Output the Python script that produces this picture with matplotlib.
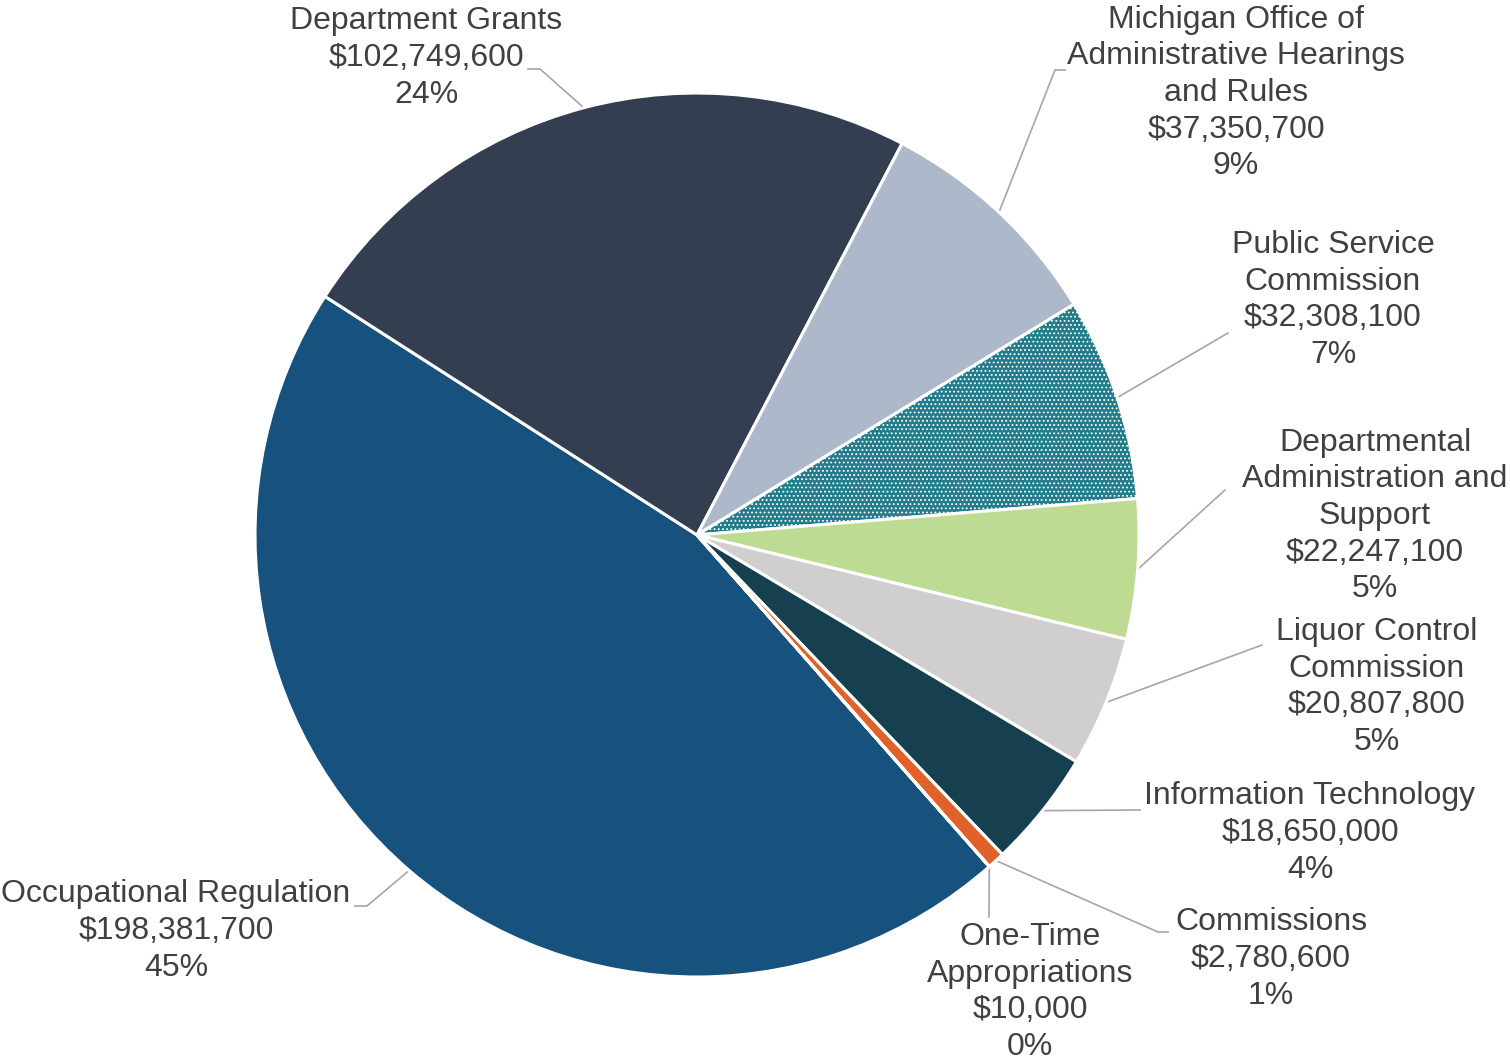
import numpy as np
import matplotlib.pyplot as plt
import matplotlib as mpl

plt.rcParams['font.family'] = ['Liberation Sans', 'DejaVu Sans']
plt.rcParams['hatch.linewidth'] = 0.8

# data (clockwise from the Occupational Regulation slice)
names = ['Occupational Regulation', 'Department Grants',
         'Michigan Office of\nAdministrative Hearings\nand Rules',
         'Public Service\nCommission',
         'Departmental\nAdministration and\nSupport',
         'Liquor Control\nCommission', 'Information Technology',
         'Commissions', 'One-Time\nAppropriations']
values = [198381700, 102749600, 37350700, 32308100, 22247100,
          20807800, 18650000, 2780600, 10000]
pcts = ['45%', '24%', '9%', '7%', '5%', '5%', '4%', '1%', '0%']
colors = ['#17517e', '#333f50', '#adb9ca', '#237c8c', '#bddb92',
          '#d0cece', '#16404f', '#e0622a', '#7f7f7f']

W, H = 1510, 1061
cx, cy, R = 697, H - 535, 442

fig = plt.figure(figsize=(15.1, 10.61), dpi=100)
ax = fig.add_axes([0, 0, 1, 1])

wedges, _ = ax.pie(values, colors=colors, startangle=-48.6, counterclock=False,
                   center=(cx, cy), radius=R, frame=True,
                   wedgeprops=dict(edgecolor='white', linewidth=2.2))
wedges[3].set_hatch('....')
ax.set_xlim(0, W)
ax.set_ylim(0, H)
ax.set_aspect('equal')
ax.axis('off')

# label centres (pixels, from top) and leader anchors
label_xy = [(176, 931), (426, 58), (1236, 93), (1333, 300), (1375, 516),
            (1377, 687), (1310, 833), (1271, 959), (1030, 992)]
anchors = [[(355, 906), (367, 906)], [(528, 69), (540, 69)],
           [(1065, 70), (1055, 70)], [(1228, 333)], [(1225, 490)],
           [(1262, 645)], [(1140, 810)], [(1168, 932), (1158, 932)],
           [(989, 917)]]

for i, w in enumerate(wedges):
    txt = '%s\n$%s\n%s' % (names[i], format(values[i], ','), pcts[i])
    lx, ly = label_xy[i]
    ax.text(lx, H - ly, txt.replace('$', r'\$'), ha='center', va='center',
            fontsize=23, color='#404040', linespacing=1.29)
    mid = np.deg2rad((w.theta1 + w.theta2) / 2)
    ex, ey = cx + R * np.cos(mid), cy + R * np.sin(mid)
    pts = [(x, H - y) for x, y in anchors[i]] + [(ex, ey)]
    xs, ys = zip(*pts)
    ax.plot(xs, ys, color='#a6a6a6', lw=1.2, zorder=0)

fig.savefig('out.png', dpi=100)
